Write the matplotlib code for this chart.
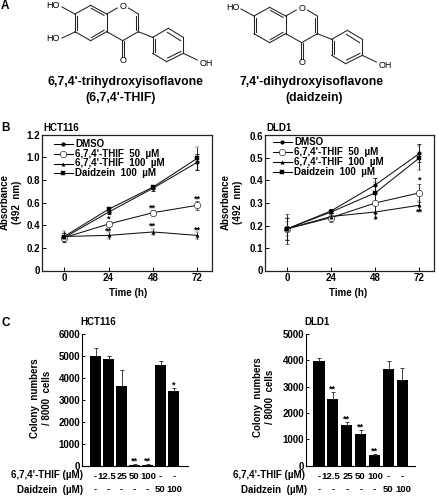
import matplotlib
matplotlib.use("Agg")
import matplotlib.pyplot as plt

plt.rcParams['font.family'] = ['Liberation Sans', 'DejaVu Sans']
plt.rcParams['font.weight'] = 'bold'
plt.rcParams['axes.labelweight'] = 'bold'

W, H = 438, 496
FS = 7

hours = [0, 24, 48, 72]
series_labels = ["DMSO", "6,7,4'-THIF  50  \u00b5M", "6,7,4'-THIF  100  \u00b5M", "Daidzein  100  \u00b5M"]

hct_dmso = [0.29, 0.515, 0.725, 0.955]
hct_thif50 = [0.29, 0.41, 0.51, 0.575]
hct_thif100 = [0.30, 0.31, 0.34, 0.31]
hct_daid = [0.30, 0.54, 0.735, 0.99]
hct_dmso_err = [0.04, 0.015, 0.02, 0.07]
hct_thif50_err = [0.02, 0.02, 0.02, 0.04]
hct_thif100_err = [0.05, 0.03, 0.03, 0.03]
hct_daid_err = [0.03, 0.015, 0.015, 0.10]

dld_dmso = [0.185, 0.265, 0.38, 0.52]
dld_thif50 = [0.185, 0.235, 0.30, 0.345]
dld_thif100 = [0.185, 0.24, 0.26, 0.29]
dld_daid = [0.185, 0.26, 0.345, 0.50]
dld_dmso_err = [0.05, 0.01, 0.03, 0.04]
dld_thif50_err = [0.065, 0.02, 0.045, 0.04]
dld_thif100_err = [0.05, 0.015, 0.03, 0.02]
dld_daid_err = [0.03, 0.01, 0.05, 0.055]

hct_star_x = [24, 24, 48, 48, 72, 72]
hct_star_y = [0.45, 0.35, 0.555, 0.39, 0.63, 0.355]
hct_star_txt = ['*', '**', '**', '**', '**', '**']
dld_star_x = [48, 72, 72]
dld_star_y = [0.23, 0.40, 0.26]
dld_star_txt = ['*', '*', '**']

bar_pos = [0, 1, 2, 3, 4, 5, 6]
thif_labels = ['-', '12.5', '25', '50', '100', '-', '-']
daid_labels = ['-', '-', '-', '-', '-', '50', '100']
colony_hct = [4980, 4880, 3650, 30, 30, 4570, 3390]
colony_hct_err = [360, 130, 690, 30, 20, 220, 130]
colony_dld = [3960, 2510, 1550, 1200, 410, 3680, 3260]
colony_dld_err = [110, 270, 120, 160, 30, 300, 430]
hct_bar_stars = ['', '', '', '**', '**', '', '*']
dld_bar_stars = ['', '**', '**', '**', '**', '', '']

# molecule skeleton, in reference pixels x3
ring_bonds = [((225, 42), (272, 16)), ((320, 42), (320, 95)), ((225, 95), (272, 122)),
              ((225, 42), (225, 95)), ((272, 16), (320, 42)), ((320, 95), (272, 122)),
              ((320, 42), (352, 24)), ((385, 24), (415, 42)), ((415, 42), (415, 95)), ((415, 95), (368, 122)),
              ((368, 122), (320, 95)), ((415, 95), (458, 112)), ((458, 112), (505, 85)),
              ((505, 85), (550, 112)), ((550, 112), (550, 160)), ((550, 160), (500, 185)),
              ((500, 185), (458, 160)), ((458, 160), (458, 112)), ((550, 160), (592, 180))]
double_bonds = [((225, 48), (225, 89), 6, 0), ((277, 19), (315, 40), -3, 6), ((315, 97), (277, 119), -3, -6),
                ((415, 48), (415, 90), -6, 0), ((458, 118), (458, 155), 6, 0), ((505, 181), (545, 161), -2, -7),
                ((505, 90), (545, 115), -3, 7)]
carbonyl = [((365, 122), (365, 170)), ((371, 122), (371, 170))]

LINE_STYLES = [dict(marker='o', ms=2, mfc='k', mec='k'),
               dict(marker='o', ms=4.6, mfc='w', mec='k', mew=0.4),
               dict(marker='^', ms=2.4, mfc='k', mec='k', mew=0.3),
               dict(marker='s', ms=3, mfc='k', mec='k', mew=0.3)]

# the dose labels sit almost touching, nudge them apart a little
LABEL_NUDGE = {'12.5': -0.14, '25': 0.06, '50': -0.07, '100': 0.07, '-': 0}


def make_ax(left, right, top, bottom):
    return fig.add_axes([left / W, 1 - bottom / H, (right - left) / W, (bottom - top) / H])


def draw_molecule(ax, dx, dy):
    for a, b in ring_bonds + carbonyl:
        ax.plot([(a[0] + dx) / 3, (b[0] + dx) / 3], [(a[1] + dy) / 3, (b[1] + dy) / 3], color='#222222', lw=0.75)
    for a, b, ox, oy in double_bonds:
        ax.plot([(a[0] + dx + ox) / 3, (b[0] + dx + ox) / 3], [(a[1] + dy + oy) / 3, (b[1] + dy + oy) / 3], color='#222222', lw=0.75)
    ax.text((368 + dx) / 3, (20 + dy) / 3, 'O', ha='center', va='center', fontsize=6.5, fontweight='normal')
    ax.text((368 + dx) / 3, (182 + dy) / 3, 'O', ha='center', va='center', fontsize=6.5, fontweight='normal')
    ax.text((618 + dx) / 3, (189 + dy) / 3, 'OH', ha='center', va='center', fontsize=6.5, fontweight='normal')


def line_panel(ax, ylim, yticks, data, errs, star_x, star_y, star_txt):
    for vals, err, st, lab in zip(data, errs, LINE_STYLES, series_labels):
        ax.errorbar(hours, vals, yerr=err, color='#111111', lw=0.75, elinewidth=0.6, capsize=1.2, capthick=0.6, label=lab, **st)
    ax.set_xlim(-12, 80)
    ax.set_ylim(*ylim)
    ax.set_xticks(hours)
    ax.set_yticks(yticks)
    ax.set_yticklabels(['0' if v == 0 else '%.1f' % v for v in yticks])
    ax.tick_params(labelsize=FS, length=3, width=0.7, pad=1.5, direction='in')
    for s in ax.spines.values():
        s.set_linewidth(0.9)
        s.set_color('#222222')
    for x, y, t in zip(star_x, star_y, star_txt):
        ax.text(x, y, t, fontsize=6.5, ha='center', va='center')


def legend_rows(x0, x1, rows):
    for st, lab, y in zip(LINE_STYLES, series_labels, rows):
        page.plot([x0, (x0 + x1) / 2, x1], [y, y, y], color='k', lw=0.75, markevery=[1], **st)
        page.text(x1 + 2.3, y, lab, fontsize=FS, va='center', ha='left')


def bar_panel(ax, vals, err, stars, ymax, yticks, width, xlim):
    ax.bar(bar_pos, vals, width=width, color='k')
    ax.errorbar(bar_pos, vals, yerr=[[0] * len(err), err], fmt='none', ecolor='#222222', elinewidth=0.6, capsize=1.5, capthick=0.6)
    ax.set_xlim(*xlim)
    ax.set_ylim(0, ymax)
    ax.set_yticks(yticks)
    ax.set_xticks([])
    ax.tick_params(labelsize=FS, length=2.5, width=0.7, pad=1, direction='in')
    ax.spines['top'].set_visible(False)
    ax.spines['right'].set_visible(False)
    for i, s in enumerate(stars):
        if s:
            ax.text(i, vals[i] + err[i] + ymax * 0.022, s, fontsize=6.5, ha='center', va='center')
    trans = ax.get_xaxis_transform()
    for i in bar_pos:
        ax.text(i + LABEL_NUDGE[thif_labels[i]], -0.087, thif_labels[i], fontsize=6.8, ha='center', va='center', transform=trans, clip_on=False)
        ax.text(i + LABEL_NUDGE[daid_labels[i]], -0.186, daid_labels[i], fontsize=6.8, ha='center', va='center', transform=trans, clip_on=False)


fig = plt.figure(figsize=(W / 100, H / 100), dpi=100)

# page overlay in pixel coordinates, for letters, structures and labels
page = fig.add_axes([0, 0, 1, 1])
page.set_xlim(0, W)
page.set_ylim(H, 0)
page.axis('off')
page.set_zorder(10)
page.text(1, 6, 'A', fontsize=8.5, va='center')
page.text(1, 128, 'B', fontsize=8.5, va='center')
page.text(1, 323, 'C', fontsize=8.5, va='center')
draw_molecule(page, 0, 0)
draw_molecule(page, 537, 6)
# hydroxyl groups differ between the two structures
for (x1, y1, x2, y2) in [(75, 14, 62, 7), (75, 32, 62, 38), (254, 16, 241, 9)]:
    page.plot([x1, x2], [y1, y2], color='#222222', lw=0.75)
page.text(53, 5, 'HO', fontsize=6.5, ha='center', va='center', fontweight='normal')
page.text(53, 38.5, 'HO', fontsize=6.5, ha='center', va='center', fontweight='normal')
page.text(233, 7.5, 'HO', fontsize=6.5, ha='center', va='center', fontweight='normal')
page.text(125, 82.5, "6,7,4'-trihydroxyisoflavone", fontsize=8.8, ha='center', va='center')
page.text(120.5, 98.5, "(6,7,4'-THIF)", fontsize=8.8, ha='center', va='center')
page.text(311, 82.5, "7,4'-dihydroxyisoflavone", fontsize=8.8, ha='center', va='center')
page.text(314, 98.5, "(daidzein)", fontsize=8.8, ha='center', va='center')

ax1 = make_ax(42, 212, 134.5, 270.5)
line_panel(ax1, (0, 1.2), [0, 0.2, 0.4, 0.6, 0.8, 1.0, 1.2],
           [hct_dmso, hct_thif50, hct_thif100, hct_daid],
           [hct_dmso_err, hct_thif50_err, hct_thif100_err, hct_daid_err],
           hct_star_x, hct_star_y, hct_star_txt)
legend_rows(54, 72.7, [144, 154, 163.5, 173])

ax2 = make_ax(265, 434, 135.5, 270.5)
line_panel(ax2, (0, 0.6), [0, 0.1, 0.2, 0.3, 0.4, 0.5, 0.6],
           [dld_dmso, dld_thif50, dld_thif100, dld_daid],
           [dld_dmso_err, dld_thif50_err, dld_thif100_err, dld_daid_err],
           dld_star_x, dld_star_y, dld_star_txt)
legend_rows(272.7, 292, [141.7, 152, 162, 172])

ax3 = make_ax(81.7, 188, 334, 465.5)
bar_panel(ax3, colony_hct, colony_hct_err, hct_bar_stars, 6000, [0, 1000, 2000, 3000, 4000, 5000, 6000], 0.81, (-1.07, 7.1))

ax4 = make_ax(305.7, 415, 334, 465.5)
bar_panel(ax4, colony_dld, colony_dld_err, dld_bar_stars, 5000, [0, 1000, 2000, 3000, 4000, 5000], 0.81, (-0.95, 6.9))

# panel titles and axis labels
page.text(43, 128, 'HCT116', fontsize=FS, va='center')
page.text(266.7, 128, 'DLD1', fontsize=FS, va='center')
page.text(98, 321.7, 'HCT116', fontsize=FS, va='center', ha='center')
page.text(317, 321.7, 'DLD1', fontsize=FS, va='center', ha='center')
page.text(128, 293, 'Time (h)', fontsize=FS, va='center', ha='center')
page.text(348, 293, 'Time (h)', fontsize=FS, va='center', ha='center')
page.text(11, 202, 'Absorbance\n(492  nm)', fontsize=FS, rotation=90, va='center', ha='center', multialignment='center', linespacing=1.35)
page.text(232, 202, 'Absorbance\n(492  nm)', fontsize=FS, rotation=90, va='center', ha='center', multialignment='center', linespacing=1.3)
page.text(41, 398, 'Colony  numbers\n/ 8000  cells', fontsize=FS, rotation=90, va='center', ha='center', multialignment='center', linespacing=1.35)
page.text(264, 397, 'Colony  numbers\n/ 8000  cells', fontsize=FS, rotation=90, va='center', ha='center', multialignment='center', linespacing=1.35)
page.text(82.7, 475, "6,7,4'-THIF (\u00b5M)", fontsize=FS, ha='right', va='center')
page.text(83, 490, "Daidzein  (\u00b5M)", fontsize=FS, ha='right', va='center')
page.text(305, 475, "6,7,4'-THIF (\u00b5M)", fontsize=FS, ha='right', va='center')
page.text(307, 490, "Daidzein  (\u00b5M)", fontsize=FS, ha='right', va='center')

fig.savefig('out.png', dpi=100)
